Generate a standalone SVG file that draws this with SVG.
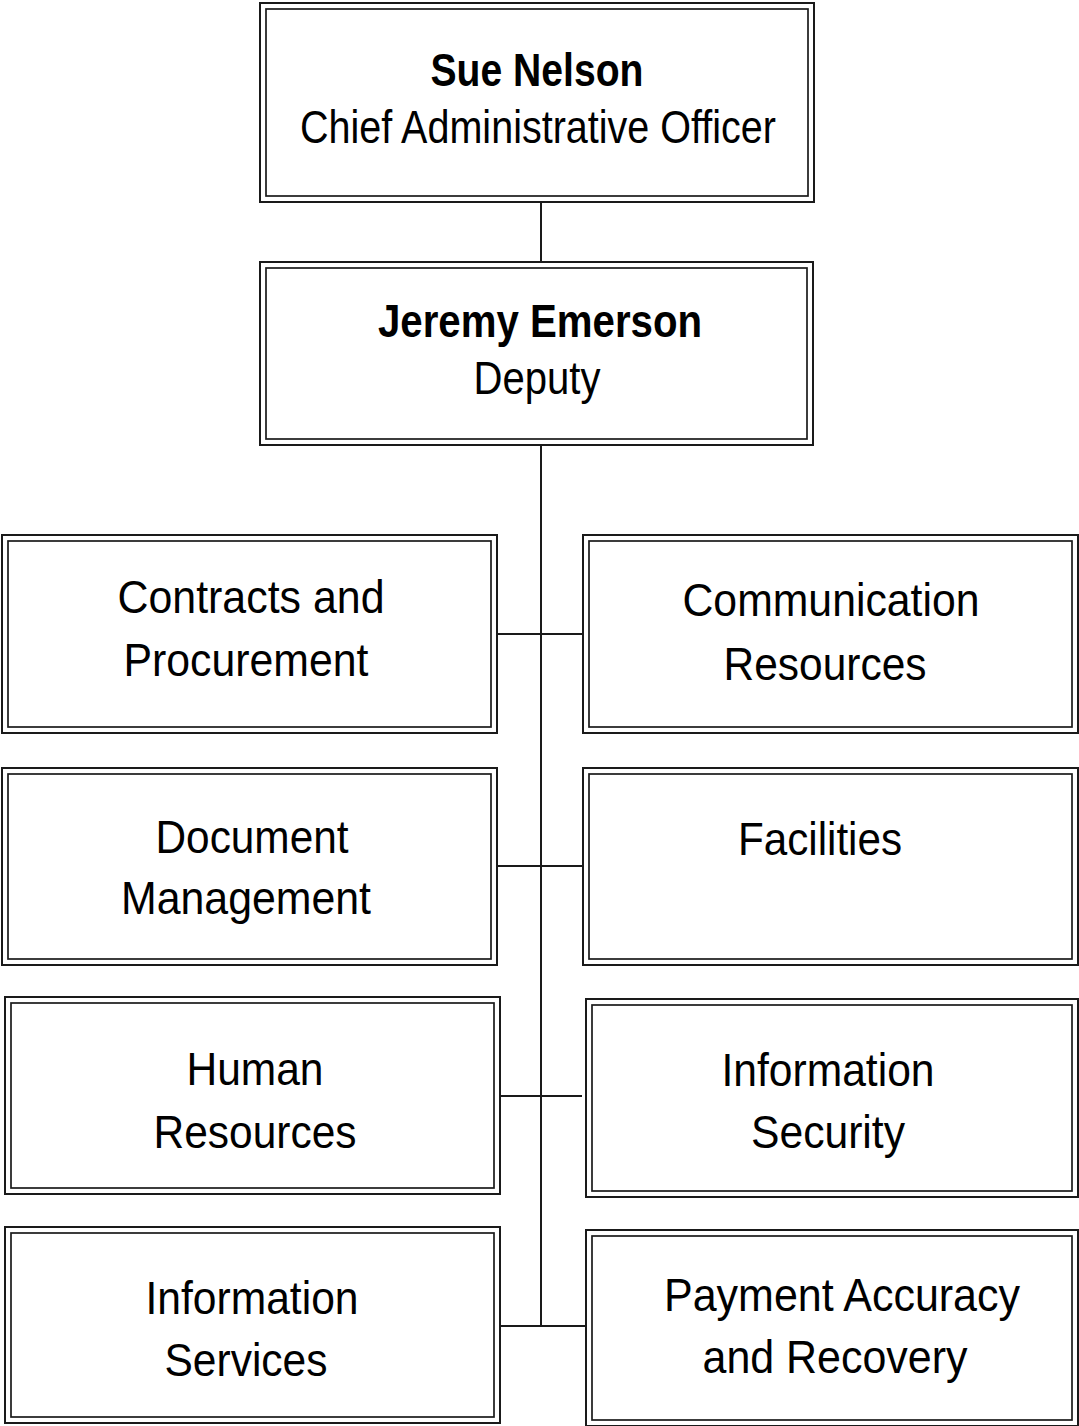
<svg xmlns="http://www.w3.org/2000/svg" width="1079" height="1426" viewBox="0 0 1079 1426">
<style>
.o{fill:#fff;stroke:#1a1a1a;stroke-width:2}
.i{fill:none;stroke:#1a1a1a;stroke-width:1.7}
.c{fill:none;stroke:#1a1a1a;stroke-width:2}
text{font-family:"Liberation Sans Narrow","Liberation Sans",Arial,sans-serif;font-size:47px;fill:#000;text-anchor:middle}
.b{font-weight:bold}
</style>
<rect width="1079" height="1426" fill="#fff"/>
<g id="connectors">
<line class="c" x1="541" y1="202" x2="541" y2="262"/>
<line class="c" x1="541" y1="445" x2="541" y2="1326"/>
<line class="c" x1="497" y1="634" x2="583" y2="634"/>
<line class="c" x1="497" y1="866" x2="583" y2="866"/>
<line class="c" x1="500" y1="1096" x2="582" y2="1096"/>
<line class="c" x1="500" y1="1326" x2="586" y2="1326"/>
</g>
<g id="sue-nelson">
<rect class="o" x="260" y="3" width="554" height="199"/>
<rect class="i" x="266" y="9" width="542" height="187"/>
<text class="b" x="537" y="86" textLength="213" lengthAdjust="spacingAndGlyphs">Sue Nelson</text>
<text x="538" y="143" textLength="476" lengthAdjust="spacingAndGlyphs">Chief Administrative Officer</text>
</g>
<g id="jeremy-emerson">
<rect class="o" x="260" y="262" width="553" height="183"/>
<rect class="i" x="266" y="268" width="541" height="171"/>
<text class="b" x="540" y="337" textLength="324" lengthAdjust="spacingAndGlyphs">Jeremy Emerson</text>
<text x="537" y="394" textLength="127" lengthAdjust="spacingAndGlyphs">Deputy</text>
</g>
<g id="contracts">
<rect class="o" x="2" y="535" width="495" height="198"/>
<rect class="i" x="8" y="541" width="483" height="186"/>
<text x="251" y="613" textLength="267" lengthAdjust="spacingAndGlyphs">Contracts and</text>
<text x="246" y="676" textLength="245" lengthAdjust="spacingAndGlyphs">Procurement</text>
</g>
<g id="communication">
<rect class="o" x="583" y="535" width="495" height="198"/>
<rect class="i" x="589" y="541" width="483" height="186"/>
<text x="831" y="616" textLength="297" lengthAdjust="spacingAndGlyphs">Communication</text>
<text x="825" y="680" textLength="203" lengthAdjust="spacingAndGlyphs">Resources</text>
</g>
<g id="document">
<rect class="o" x="2" y="768" width="495" height="197"/>
<rect class="i" x="8" y="774" width="483" height="185"/>
<text x="252" y="853" textLength="193" lengthAdjust="spacingAndGlyphs">Document</text>
<text x="246" y="914" textLength="250" lengthAdjust="spacingAndGlyphs">Management</text>
</g>
<g id="facilities">
<rect class="o" x="583" y="768" width="495" height="197"/>
<rect class="i" x="589" y="774" width="483" height="185"/>
<text x="820" y="855" textLength="164" lengthAdjust="spacingAndGlyphs">Facilities</text>
</g>
<g id="human-resources">
<rect class="o" x="5" y="997" width="495" height="197"/>
<rect class="i" x="11" y="1003" width="483" height="185"/>
<text x="255" y="1085" textLength="137" lengthAdjust="spacingAndGlyphs">Human</text>
<text x="255" y="1148" textLength="203" lengthAdjust="spacingAndGlyphs">Resources</text>
</g>
<g id="information-security">
<rect class="o" x="586" y="999" width="492" height="198"/>
<rect class="i" x="592" y="1005" width="480" height="186"/>
<text x="828" y="1086" textLength="213" lengthAdjust="spacingAndGlyphs">Information</text>
<text x="828" y="1148" textLength="154" lengthAdjust="spacingAndGlyphs">Security</text>
</g>
<g id="information-services">
<rect class="o" x="5" y="1227" width="495" height="196"/>
<rect class="i" x="11" y="1233" width="483" height="184"/>
<text x="252" y="1314" textLength="213" lengthAdjust="spacingAndGlyphs">Information</text>
<text x="246" y="1376" textLength="163" lengthAdjust="spacingAndGlyphs">Services</text>
</g>
<g id="payment-accuracy">
<rect class="o" x="586" y="1230" width="492" height="196"/>
<rect class="i" x="592" y="1236" width="480" height="184"/>
<text x="842" y="1311" textLength="356" lengthAdjust="spacingAndGlyphs">Payment Accuracy</text>
<text x="835" y="1373" textLength="265" lengthAdjust="spacingAndGlyphs">and Recovery</text>
</g>
</svg>
